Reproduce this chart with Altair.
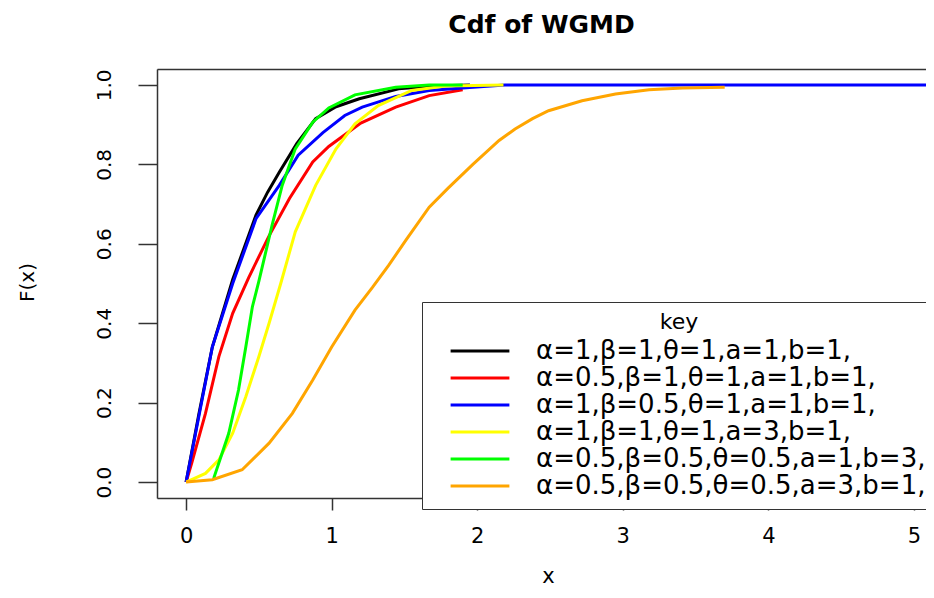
import altair as alt
import pandas as pd

labels = [
    "α=1,β=1,θ=1,a=1,b=1,",
    "α=0.5,β=1,θ=1,a=1,b=1,",
    "α=1,β=0.5,θ=1,a=1,b=1,",
    "α=1,β=1,θ=1,a=3,b=1,",
    "α=0.5,β=0.5,θ=0.5,a=1,b=3,",
    "α=0.5,β=0.5,θ=0.5,a=3,b=1,",
]
colors = ["#000000", "#FF0000", "#0000FF", "#FFFF00", "#00FF00", "#FFA500"]

black_x = [0, 0.087, 0.18, 0.32, 0.48, 0.56, 0.64, 0.76, 0.89, 1.03, 1.19, 1.46, 1.7, 1.95]
black_F = [0, 0.17, 0.34, 0.51, 0.672, 0.73, 0.78, 0.852, 0.915, 0.945, 0.965, 0.99, 0.997, 1.0]

red_x = [0, 0.04, 0.133, 0.225, 0.32, 0.43, 0.57, 0.71, 0.87, 0.98, 1.2, 1.44, 1.67, 1.9]
red_F = [0, 0.05, 0.173, 0.316, 0.425, 0.515, 0.62, 0.714, 0.806, 0.845, 0.904, 0.944, 0.973, 0.988]

blue_x = [0, 0.09, 0.18, 0.32, 0.48, 0.64, 0.77, 0.94, 1.09, 1.21, 1.44, 1.67, 1.9, 2.19, 5.4]
blue_F = [0, 0.17, 0.34, 0.5, 0.663, 0.747, 0.823, 0.88, 0.923, 0.944, 0.971, 0.986, 0.992, 1.0, 1.0]

yellow_x = [0, 0.133, 0.225, 0.32, 0.41, 0.5, 0.57, 0.65, 0.75, 0.89, 1.03, 1.16, 1.32, 1.55, 1.78, 2.18]
yellow_F = [0, 0.022, 0.056, 0.123, 0.215, 0.316, 0.4, 0.5, 0.63, 0.747, 0.839, 0.902, 0.948, 0.986, 0.997, 1.0]

green_x = [0.19, 0.293, 0.36, 0.41, 0.455, 0.5, 0.59, 0.66, 0.75, 0.87, 0.98, 1.16, 1.44, 1.67, 1.9]
green_F = [0.01, 0.123, 0.232, 0.34, 0.441, 0.506, 0.646, 0.747, 0.839, 0.906, 0.942, 0.975, 0.994, 1.0, 1.0]

orange_x = [0, 0.18, 0.385, 0.57, 0.73, 0.87, 1.0, 1.16, 1.28, 1.39, 1.51, 1.67, 1.8, 1.97,
            2.15, 2.26, 2.38, 2.49, 2.72, 2.95, 3.18, 3.41, 3.7]
orange_F = [0, 0.006, 0.031, 0.098, 0.173, 0.257, 0.34, 0.433, 0.49, 0.545, 0.609, 0.692, 0.74, 0.80,
            0.86, 0.889, 0.915, 0.935, 0.96, 0.977, 0.988, 0.992, 0.994]

x_ticks = [0, 1, 2, 3, 4, 5]
y_ticks = [0, 0.2, 0.4, 0.6, 0.8, 1.0]

series = [
    (labels[0], black_x, black_F),
    (labels[1], red_x, red_F),
    (labels[2], blue_x, blue_F),
    (labels[3], yellow_x, yellow_F),
    (labels[4], green_x, green_F),
    (labels[5], orange_x, orange_F),
]
rows = []
for name, xs, fs in series:
    for i, (xv, fv) in enumerate(zip(xs, fs)):
        rows.append({"key": name, "x": xv, "F": fv, "i": i})
df = pd.DataFrame(rows)

FONT = "DejaVu Sans"
FRAME = "#333333"

xscale = alt.Scale(domain=[-0.2, 5.083], nice=False, zero=False)
yscale = alt.Scale(domain=[-0.04, 1.04], nice=False, zero=False)

lines = (
    alt.Chart(df)
    .mark_line(clip=True, strokeWidth=3)
    .encode(
        x=alt.X(
            "x:Q",
            scale=xscale,
            axis=alt.Axis(
                values=x_ticks, format="d", title="x",
                domain=True, domainColor=FRAME, domainWidth=1.5, grid=False,
                tickSize=12, tickColor=FRAME, tickWidth=1.5,
                labelFont=FONT, labelFontSize=21, labelColor="#000",
                labelBaseline="alphabetic", labelPadding=32,
                titleFont=FONT, titleFontSize=21, titleFontWeight="normal", titleColor="#000",
                titleBaseline="alphabetic", titleX=391, titleY=84,
            ),
        ),
        y=alt.Y(
            "F:Q",
            scale=yscale,
            axis=alt.Axis(
                values=y_ticks, format=".1f", title="F(x)",
                domain=True, domainColor=FRAME, domainWidth=1.5, grid=False,
                tickSize=19, tickColor=FRAME, tickWidth=1.5,
                labelFont=FONT, labelFontSize=20, labelColor="#000",
                labelAngle=270, labelAlign="center", labelBaseline="alphabetic", labelPadding=28,
                titleFont=FONT, titleFontSize=20, titleFontWeight="normal", titleColor="#000",
                titleAngle=270, titleAlign="center", titleBaseline="alphabetic",
                titleX=-124, titleY=213,
            ),
        ),
        color=alt.Color(
            "key:N",
            scale=alt.Scale(domain=labels, range=colors),
            legend=alt.Legend(
                title="key", orient="none", legendX=265, legendY=233,
                strokeColor=FRAME, fillColor="white", padding=10,
                symbolType="M-2.4,0H2.4", symbolSize=600, symbolStrokeWidth=3,
                symbolOffset=34, labelOffset=42, rowPadding=0,
                labelFont=FONT, labelFontSize=26, labelColor="#000", labelLimit=600,
                titleFont=FONT, titleFontSize=22, titleFontWeight="normal", titleColor="#000",
                titleAnchor="middle", titlePadding=3,
            ),
        ),
        order=alt.Order("i:Q"),
    )
)

top_frame = (
    alt.Chart(df)
    .mark_line(opacity=0)
    .encode(
        x=alt.X(
            "x:Q",
            scale=xscale,
            axis=alt.Axis(
                orient="top", labels=False, ticks=False, title=None, grid=False,
                domain=True, domainColor=FRAME, domainWidth=1.5,
            ),
        ),
        y=alt.Y("F:Q", scale=yscale, axis=None),
        detail="key:N",
    )
)

chart = (
    alt.layer(lines, top_frame)
    .resolve_axis(x="independent", y="independent")
    .properties(
        width=769,
        height=429,
        title=alt.Title(
            "Cdf of WGMD", font=FONT, fontSize=25, fontWeight="bold", color="#000",
            anchor="middle", baseline="alphabetic", offset=11,
        ),
        autosize=alt.AutoSizeParams(type="none"),
        padding={"left": 149, "top": 61, "right": 0, "bottom": 88},
    )
    .configure_view(stroke=None)
    .configure(background="white")
)

chart.save("out.html", embed_options={"renderer": "svg", "actions": False})
